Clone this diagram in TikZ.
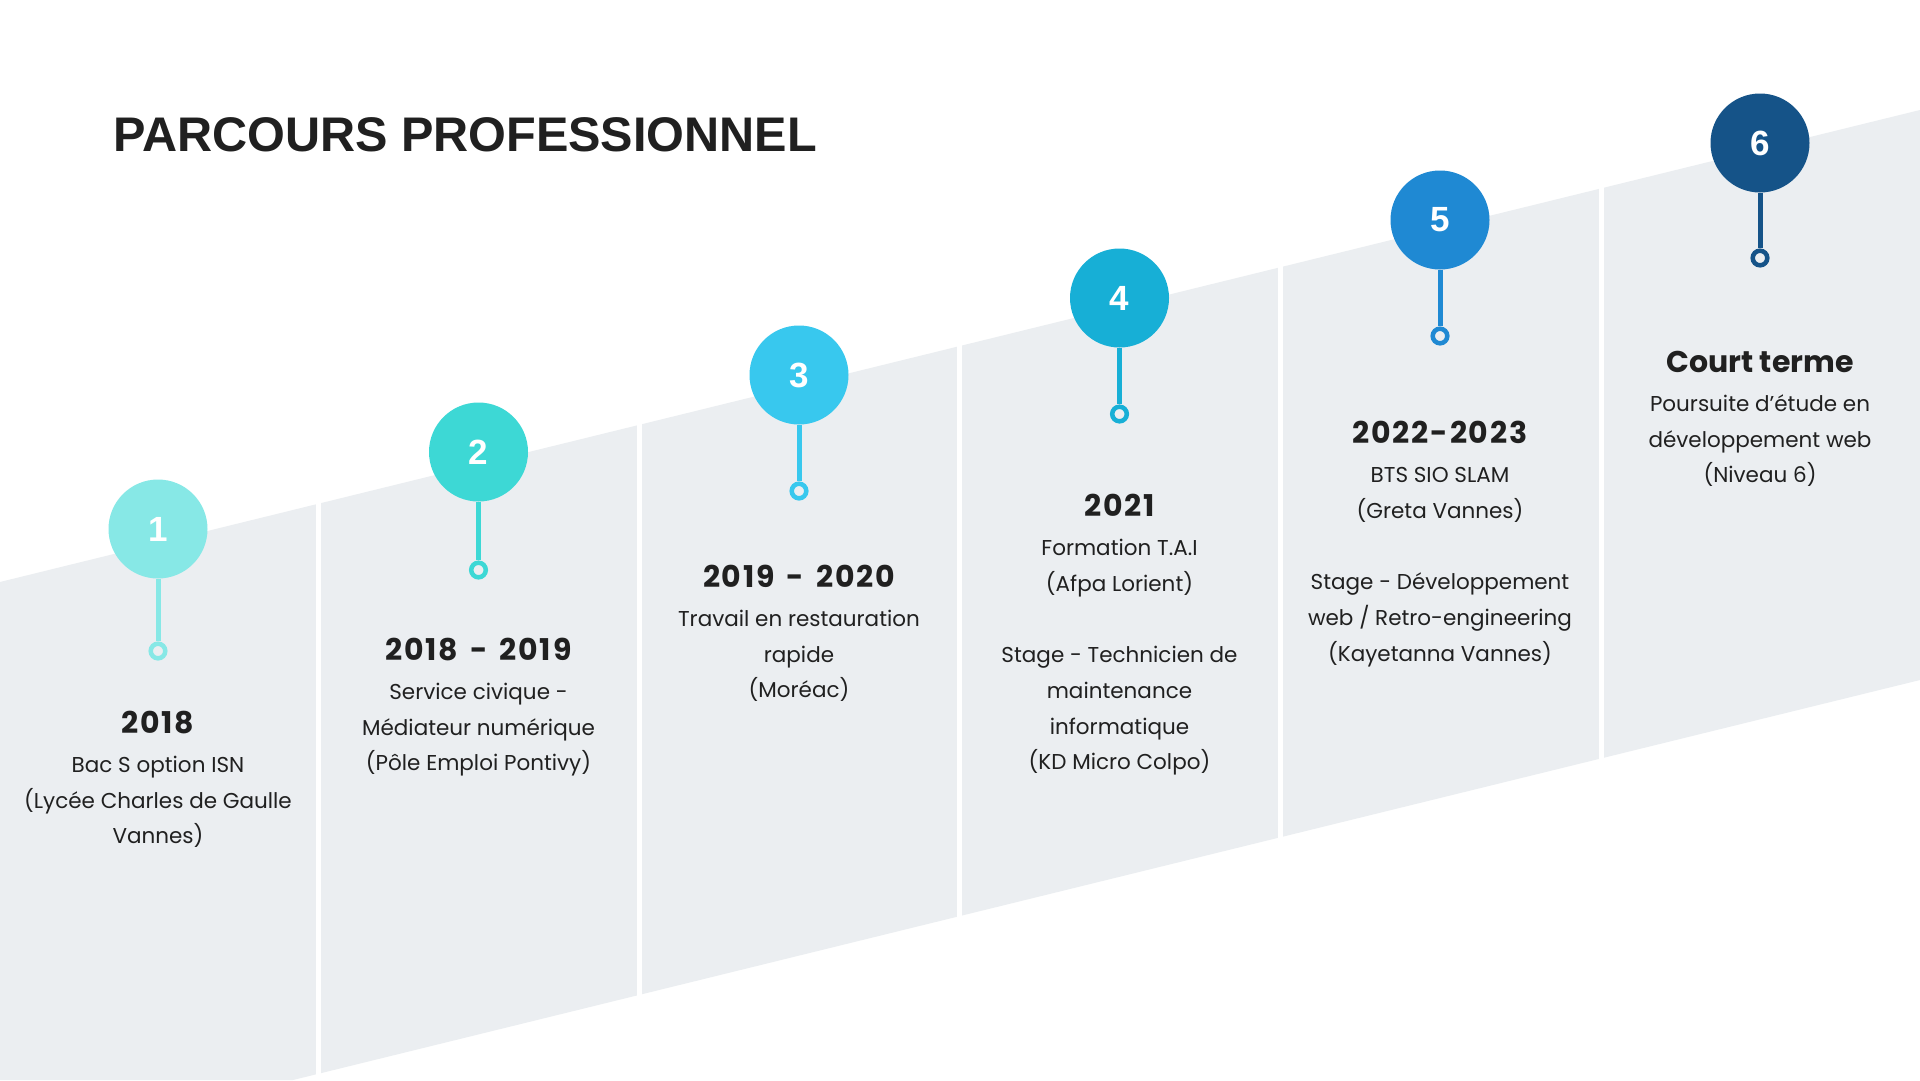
\documentclass[tikz,border=0pt]{standalone}
\usepackage{fontspec}
\setmainfont{Poppins}
\newfontfamily\yearfont[Numbers=Monospaced]{Poppins}
\newfontfamily\yearnumfont[Numbers=Monospaced,LetterSpace=6]{Poppins}
\newfontfamily\titlefont{Liberation Sans}
\definecolor{bandc}{HTML}{EBEEF1}
\definecolor{textc}{HTML}{202020}
\definecolor{cA}{HTML}{87E8E6}
\definecolor{cB}{HTML}{3DD8D5}
\definecolor{cC}{HTML}{38C8EE}
\definecolor{cD}{HTML}{17AFD6}
\definecolor{cE}{HTML}{1F89D3}
\definecolor{cF}{HTML}{155388}
\newcommand\dsep{\hspace{12pt}-\hspace{12pt}}
\tikzset{
  bubble/.style={circle, fill=#1, minimum size=99pt, inner sep=0pt, text=white,
    font=\titlefont\bfseries\fontsize{35}{35}\selectfont},
  ringnode/.style={circle, draw=#1, line width=4.5pt, minimum size=14.6pt, inner sep=0pt},
  stem/.style={draw=#1, line width=5pt},
  yeartext/.style={anchor=base, inner sep=0pt, text=textc, font=\yearnumfont\bfseries\fontsize{30}{32}\selectfont},
  wordtext/.style={anchor=base, inner sep=0pt, text=textc, font=\yearfont\bfseries\fontsize{30}{32}\selectfont},
  bodytext/.style={anchor=base, inner sep=0pt, text=textc, font=\fontsize{21.5}{24}\selectfont},
  gapbar/.style={fill=white, draw=none}
}
\newcommand\panelblock[6]{% #1 id, #2 x, #3 year baseline, #4 year, #5 lines, #6 title style
  \node[#6] (year#1) at (#2,#3) {#4};
  \foreach \ln [count=\li] in {#5} {
    \node[bodytext] (body#1-\li) at (#2,{#3+39.5+35.7*(\li-1)}) {\ln};
  }
}
\begin{document}
\begin{tikzpicture}[x=1pt,y=-1pt]
\useasboundingbox (0,0) rectangle (1920,1080);
\fill[white] (0,0) rectangle (1920,1080);
% band
\fill[bandc] (0,582) -- (1920,110) -- (1920,680) -- (293,1080) -- (0,1080) -- cycle;
% gaps
\foreach \g in {318.5,639,959.5,1280,1601.5} {
  \fill[gapbar] (\g-2.5,0) rectangle (\g+2.5,1080);
}
% title
\node[anchor=base west, inner sep=0pt, text=textc, font=\titlefont\bfseries\fontsize{48.6}{50}\selectfont] (title) at (113,151) {PARCOURS PROFESSIONNEL};
% circles, stems, rings
\foreach \i/\cx/\cy/\ry/\col in {1/158/529/651/cA, 2/478.5/452/570/cB, 3/799/375/491/cC, 4/1119.5/298/414/cD, 5/1440/220/336/cE, 6/1760/143/258/cF} {
  \node[bubble=\col] (c\i) at (\cx,\cy) {\i};
  \node[ringnode=\col] (r\i) at (\cx,\ry) {};
  \draw[stem=\col] (c\i.south) -- (r\i.north);
}
% texts
\panelblock{1}{158}{733}{2018}{{Bac S option ISN},{(Lycée Charles de Gaulle},{Vannes)}}{yeartext}
\panelblock{2}{478.5}{660}{2018\dsep 2019}{{Service civique -},{Médiateur numérique},{(Pôle Emploi Pontivy)}}{yeartext}
\panelblock{3}{799}{587}{2019\dsep 2020}{{Travail en restauration},{rapide},{(Moréac)}}{yeartext}
\panelblock{4}{1119.5}{516}{2021}{{Formation T.A.I},{(Afpa Lorient)},{},{Stage - Technicien de},{maintenance},{informatique},{(KD Micro Colpo)}}{yeartext}
\panelblock{5}{1440}{443}{2022-2023}{{BTS SIO SLAM},{(Greta Vannes)},{},{Stage - Développement},{web / Retro-engineering},{(Kayetanna Vannes)}}{yeartext}
\panelblock{6}{1760}{372}{Court terme}{{Poursuite d'étude en},{développement web},{(Niveau 6)}}{wordtext}
\end{tikzpicture}
\end{document}
